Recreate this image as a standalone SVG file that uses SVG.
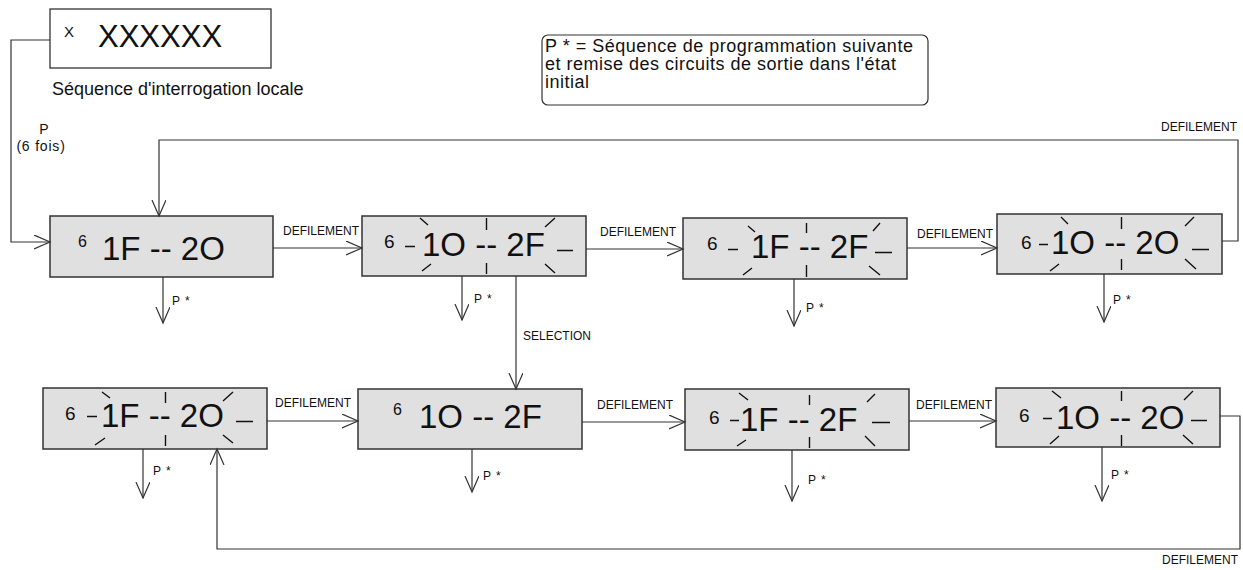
<svg xmlns="http://www.w3.org/2000/svg" width="1243" height="570" viewBox="0 0 1243 570">
<style>
text{font-family:"Liberation Sans",Arial,sans-serif;fill:#111}
.box{fill:#e0e0e0;stroke:#333;stroke-width:1.5}
.wbox{fill:#fff;stroke:#333;stroke-width:1.3}
.big{font-size:33px}
.six{font-size:19px}
.sup{font-size:16px}
.lbl{font-size:12px}
.ps{font-size:12px;letter-spacing:1px}
.txt{font-size:18px}
.note{font-size:18px;letter-spacing:0.5px}
.tk{stroke:#111;stroke-width:1.4;fill:none}
.cn{stroke:#333;stroke-width:1.2;fill:none}
</style>
<defs>
<marker id="ah" markerUnits="userSpaceOnUse" markerWidth="18" markerHeight="16" refX="16" refY="7" orient="auto">
<path d="M0,0 L16,7 L0,14" fill="none" stroke="#333" stroke-width="1.2"/>
</marker>
</defs>

<g id="local">
<rect class="wbox" x="50" y="9" width="221" height="59"/>
<text x="64" y="37" style="font-size:15px">X</text>
<text x="98" y="47" style="font-size:31px">XXXXXX</text>
<text class="txt" x="52" y="95">Séquence d'interrogation locale</text>
</g>

<g id="note">
<rect x="542" y="35" width="386" height="70" rx="6" fill="#fff" stroke="#333" stroke-width="1.2"/>
<text class="note" x="545" y="52">P * = Séquence de programmation suivante</text>
<text class="note" x="545" y="70">et remise des circuits de sortie dans l'état</text>
<text class="note" x="545" y="88">initial</text>
</g>

<g id="A" transform="translate(50,216)">
<rect class="box" width="223" height="61"/>
<text class="sup" x="28" y="31">6</text>
<text class="big" x="52" y="44">1F -- 2O</text>
</g>

<g id="B" transform="translate(362,216)">
<rect class="box" width="224" height="60"/>
<text class="six" x="22" y="32">6</text>
<path class="tk" d="M43,30.5H53M195,34.5H211M58,2L66,9M60,55L69,48M124.5,2V14M124.5,47V58M193,2L183,11M183,48L193,57"/>
<text class="big" x="60" y="40">1O -- 2F</text>
</g>

<g id="C" transform="translate(683,218)">
<rect class="box" width="224" height="61"/>
<text class="six" x="24" y="32">6</text>
<path class="tk" d="M45,31.5H55M192,34.5H209M65,8L72,14M60,57L69,50M123.5,5V15M123.5,47V59M197,5L190,13M186,48L197,57"/>
<text class="big" x="68" y="40">1F -- 2F</text>
</g>

<g id="D" transform="translate(997,214)">
<rect class="box" width="225" height="60"/>
<text class="six" x="24" y="35">6</text>
<path class="tk" d="M42,30.5H51M195,35.5H212M64,3L71,10M53,57L62,50M124.5,3V15M124.5,45V56M197,3L188,12M188,45L199,55"/>
<text class="big" x="54" y="40">1O -- 2O</text>
</g>

<g id="E" transform="translate(43,388)">
<rect class="box" width="224" height="61"/>
<text class="six" x="22" y="32">6</text>
<path class="tk" d="M44,28.5H54M193,33.5H210M59,4L67,10M52,57L62,50M122.5,4V15M122.5,47V58M190,4L180,13M180,47L190,55"/>
<text class="big" x="58" y="39">1F -- 2O</text>
</g>

<g id="F" transform="translate(358,389)">
<rect class="box" width="224" height="60"/>
<text class="sup" x="35" y="26">6</text>
<text class="big" x="61" y="39">1O -- 2F</text>
</g>

<g id="G" transform="translate(685,389)">
<rect class="box" width="224" height="61"/>
<text class="six" x="24" y="35">6</text>
<path class="tk" d="M45,31.5H54M187,33.5H205M54,4L63,11M52,57L61,51M124.5,6V16M124.5,48V59M190,5L182,13M180,47L190,57"/>
<text class="big" x="55" y="42">1F -- 2F</text>
</g>

<g id="H" transform="translate(996,388)">
<rect class="box" width="224" height="59"/>
<text class="six" x="23" y="34">6</text>
<path class="tk" d="M47,30.5H56M195,32.5H211M56,3L65,10M54,56L63,48M125.5,3V13M125.5,47V58M197,3L188,12M187,47L197,56"/>
<text class="big" x="60" y="41">1O -- 2O</text>
</g>

<g id="connectors">
<path class="cn" d="M50,40H11V242H50" marker-end="url(#ah)"/>
<text x="44" y="134" text-anchor="middle" style="font-size:14px">P</text>
<text x="41" y="151" text-anchor="middle" style="font-size:14px;letter-spacing:0.8px">(6 fois)</text>

<path class="cn" d="M273,248H362" marker-end="url(#ah)"/>
<text class="lbl" x="283" y="235">DEFILEMENT</text>
<path class="cn" d="M586,249H683" marker-end="url(#ah)"/>
<text class="lbl" x="600" y="236">DEFILEMENT</text>
<path class="cn" d="M907,248H997" marker-end="url(#ah)"/>
<text class="lbl" x="917" y="238">DEFILEMENT</text>
<path class="cn" d="M1222,241H1238V140H159V216" marker-end="url(#ah)"/>
<text class="lbl" x="1237" y="131" text-anchor="end">DEFILEMENT</text>

<path class="cn" d="M516,276V389" marker-end="url(#ah)"/>
<text class="lbl" x="523" y="340">SELECTION</text>

<path class="cn" d="M267,421H358" marker-end="url(#ah)"/>
<text class="lbl" x="275" y="407">DEFILEMENT</text>
<path class="cn" d="M582,422H685" marker-end="url(#ah)"/>
<text class="lbl" x="597" y="409">DEFILEMENT</text>
<path class="cn" d="M909,421H996" marker-end="url(#ah)"/>
<text class="lbl" x="916" y="409">DEFILEMENT</text>
<path class="cn" d="M1220,416H1240V549H217V449" marker-end="url(#ah)"/>
<text class="lbl" x="1238" y="564" text-anchor="end">DEFILEMENT</text>

<path class="cn" d="M163,277V323" marker-end="url(#ah)"/>
<text class="ps" x="172" y="305">P *</text>
<path class="cn" d="M462,276V320" marker-end="url(#ah)"/>
<text class="ps" x="474" y="303">P *</text>
<path class="cn" d="M794,279V326" marker-end="url(#ah)"/>
<text class="ps" x="806" y="312">P *</text>
<path class="cn" d="M1104,274V322" marker-end="url(#ah)"/>
<text class="ps" x="1113" y="304">P *</text>
<path class="cn" d="M143,449V498" marker-end="url(#ah)"/>
<text class="ps" x="153" y="475">P *</text>
<path class="cn" d="M472,449V492" marker-end="url(#ah)"/>
<text class="ps" x="483" y="480">P *</text>
<path class="cn" d="M792,450V501" marker-end="url(#ah)"/>
<text class="ps" x="808" y="484">P *</text>
<path class="cn" d="M1102,447V501" marker-end="url(#ah)"/>
<text class="ps" x="1111" y="479">P *</text>
</g>
</svg>
